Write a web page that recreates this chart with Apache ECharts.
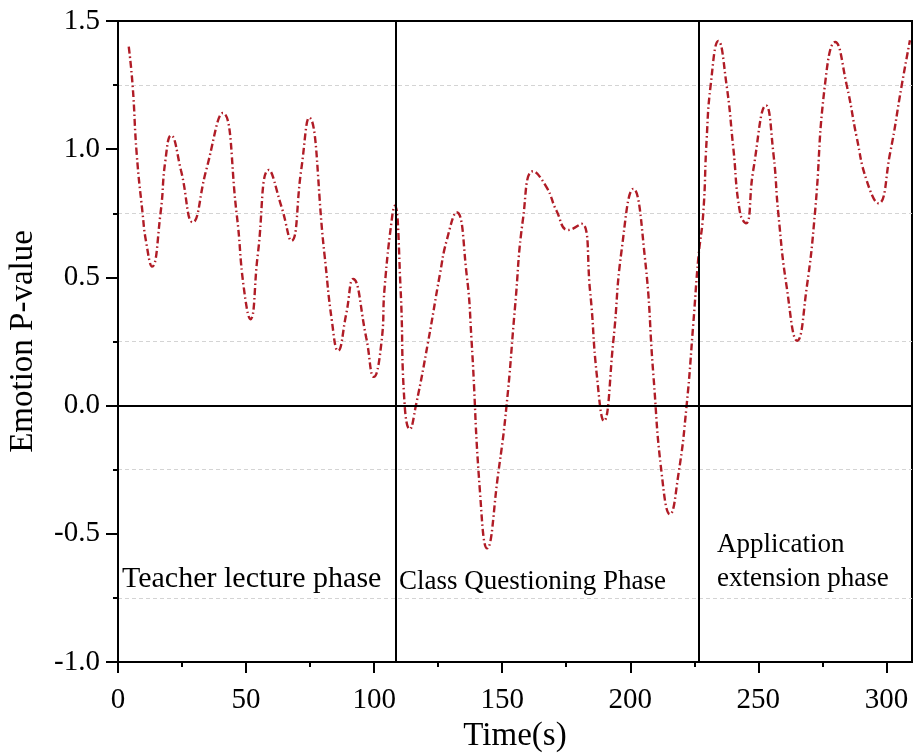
<!DOCTYPE html>
<html>
<head>
<meta charset="utf-8">
<script src="https://cdn.jsdelivr.net/npm/echarts@6/dist/echarts.min.js"></script>
<style>
  html, body { margin: 0; padding: 0; background: #fff; }
  #chart { width: 914px; height: 754px; }
</style>
</head>
<body>
<div id="chart"></div>
<script>
// Emotion P-value over the lesson (seconds)
const timeSec = [
  4.2, 5.7, 7.3, 9.6, 10.9, 13.3, 16.6, 18.5, 20.7, 24.6, 29.2, 34.4, 40.9,
  46.3, 49.1, 51.7, 54.6, 58.9, 63.9, 67.7, 71.5, 74.6, 80.6, 83.5, 85.9,
  89.1, 91.8, 96.9, 99.9, 102.9, 104.1, 107.2, 108.1, 110.3, 111.9, 113.9,
  116.3, 121.1, 125.7, 128.3, 132.2, 136.1, 138.0, 141.3, 144.1, 148.4,
  151.7, 155.0, 158.2, 162.1, 167.3, 171.2, 175.8, 181.0, 184.3, 186.9,
  189.7, 193.4, 196.6, 201.2, 205.7, 209.0, 212.3, 215.5, 218.8, 222.0,
  224.6, 226.6, 228.5, 229.8, 231.4, 234.4, 237.6, 240.2, 242.9, 245.2,
  248.0, 253.0, 255.9, 257.8, 261.1, 265.2, 268.9, 272.1, 276.0, 280.0,
  284.5, 288.4, 292.3, 296.9, 301.4, 306.0, 309.2
];
const pValue = [
  1.40, 1.25, 0.982, 0.75, 0.643, 0.542, 0.75, 0.956, 1.054, 0.917, 0.715, 0.917, 1.141,
  0.75, 0.461, 0.337, 0.591, 0.919, 0.773, 0.643, 0.917, 1.123, 0.591, 0.331, 0.214,
  0.357, 0.494, 0.266, 0.112, 0.25, 0.461, 0.75, 0.78, 0.461, 0.005, -0.092,
  0.0, 0.25, 0.513, 0.643, 0.754, 0.513, 0.26, -0.333, -0.557, -0.268,
  0.0, 0.383, 0.734, 0.914, 0.852, 0.76, 0.685, 0.709, 0.448, 0.123,
  -0.06, 0.253, 0.604, 0.845, 0.578, 0.123, -0.268, -0.424, -0.268, 0.0,
  0.318, 0.578, 0.75, 1.034, 1.25, 1.422, 1.25, 1.008, 0.75, 0.711,
  0.917, 1.171, 0.982, 0.75, 0.461, 0.253, 0.461, 0.75, 1.25, 1.418,
  1.25, 1.047, 0.878, 0.789, 0.982, 1.25, 1.425
];

const xTickValues = [0, 50, 100, 150, 200, 250, 300];
const xMinorTickValues = [25, 75, 125, 175, 225, 275];
const phaseBoundaries = [108.5, 226.6];
const phaseNames = ['Teacher lecture phase', 'Class Questioning Phase', 'Application\nextension phase'];

const FONT = '"Liberation Serif", "Times New Roman", serif';
const GRID = { left: 118, top: 21, right: 2, bottom: 92, outerBoundsMode: 'none', containLabel: false };

const chart = echarts.init(document.getElementById('chart'), null, { renderer: 'canvas' });

const lineData = timeSec.map((t, i) => [t, pValue[i]]);

const referenceLines = phaseBoundaries.map(v => ({ xAxis: v }));
referenceLines.push({ yAxis: 0 });

chart.setOption({
  backgroundColor: '#ffffff',
  animation: false,
  grid: [
    Object.assign({ show: true, borderColor: '#000', borderWidth: 2, backgroundColor: 'transparent' }, GRID),
    Object.assign({ show: false }, GRID)
  ],
  xAxis: [
    {
      type: 'value', gridIndex: 0, min: 0, max: 310, interval: 50,
      name: 'Time(s)', nameLocation: 'middle', nameGap: 58,
      nameTextStyle: { fontFamily: FONT, fontSize: 33, color: '#000' },
      axisLine: { show: true, onZero: false, lineStyle: { color: '#000', width: 2 } },
      axisTick: { show: true, inside: false, length: 11, customValues: xTickValues,
                  lineStyle: { color: '#000', width: 2 } },
      axisLabel: { show: true, margin: 24, customValues: xTickValues,
                   fontFamily: FONT, fontSize: 29, color: '#000' },
      splitLine: { show: false }
    },
    {
      type: 'value', gridIndex: 1, min: 0, max: 310, interval: 25,
      axisLine: { show: false, onZero: false },
      axisTick: { show: true, inside: false, length: 5, customValues: xMinorTickValues,
                  lineStyle: { color: '#000', width: 2 } },
      axisLabel: { show: false },
      splitLine: { show: false }
    }
  ],
  yAxis: [
    {
      type: 'value', gridIndex: 0, min: -1.0, max: 1.5, interval: 0.5,
      name: 'Emotion P-value', nameLocation: 'middle', nameGap: 78,
      nameTextStyle: { fontFamily: FONT, fontSize: 33, color: '#000' },
      axisLine: { show: true, onZero: false, lineStyle: { color: '#000', width: 2 } },
      axisTick: { show: true, inside: false, length: 12, lineStyle: { color: '#000', width: 2 } },
      minorTick: { show: true, splitNumber: 2, length: 5, lineStyle: { color: '#000', width: 2 } },
      axisLabel: { show: true, margin: 18, fontFamily: FONT, fontSize: 29, color: '#000',
                   formatter: v => v.toFixed(1) },
      splitLine: { show: false },
      minorSplitLine: { show: true, lineStyle: { color: '#d4d4d4', width: 1, type: [4, 3] } }
    },
    {
      type: 'value', gridIndex: 1, min: -1.0, max: 1.5, show: false,
      axisLine: { onZero: false }
    }
  ],
  series: [
    {
      type: 'line',
      xAxisIndex: 0, yAxisIndex: 0,
      data: lineData,
      smooth: 0.5,
      symbol: 'none',
      lineStyle: { color: '#B01C26', width: 2.4, type: [7, 3, 1.5, 3] },
      markLine: {
        silent: true,
        symbol: ['none', 'none'],
        label: { show: false },
        lineStyle: { color: '#000', width: 2, type: 'solid' },
        data: referenceLines
      },
      z: 3
    }
  ],
  graphic: [
    { type: 'text', x: 122, y: 579, silent: true,
      style: { text: phaseNames[0], font: '30px ' + FONT, fill: '#000', verticalAlign: 'middle' } },
    { type: 'text', x: 399, y: 582, silent: true,
      style: { text: phaseNames[1], font: '27px ' + FONT, fill: '#000', verticalAlign: 'middle' } },
    { type: 'text', x: 717, y: 562, silent: true,
      style: { text: phaseNames[2], font: '27px ' + FONT, fill: '#000', verticalAlign: 'middle', lineHeight: 34 } }
  ]
});
</script>
</body>
</html>
